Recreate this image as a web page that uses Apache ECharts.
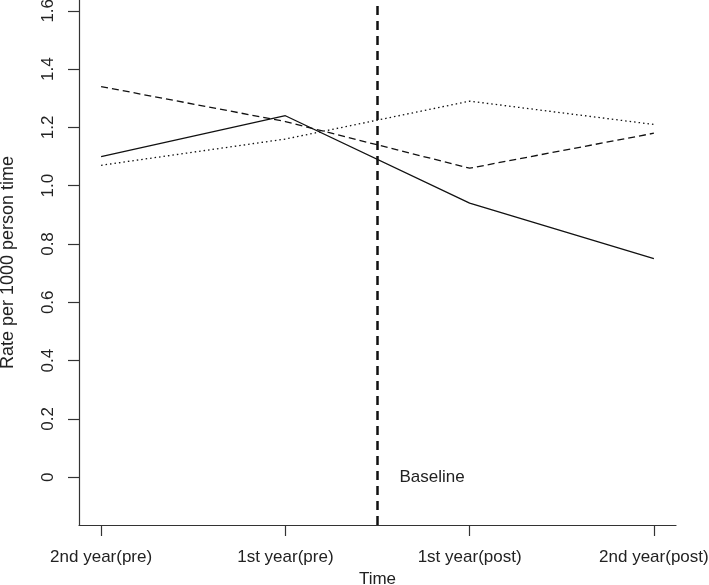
<!DOCTYPE html>
<html>
<head>
<meta charset="utf-8">
<script src="https://cdn.jsdelivr.net/npm/echarts@6/dist/echarts.min.js"></script>
<style>html,body{margin:0;padding:0;background:#fff}#c{width:709px;height:585px}</style>
</head>
<body>
<div id="c"></div>
<script>
const categories = ['2nd year(pre)', '1st year(pre)', '1st year(post)', '2nd year(post)'];
const solidValues = [1.10, 1.24, 0.94, 0.75];
const dashedValues = [1.34, 1.22, 1.06, 1.18];
const dottedValues = [1.07, 1.16, 1.29, 1.21];
const yTickValues = [0, 0.2, 0.4, 0.6, 0.8, 1.0, 1.2, 1.4, 1.6];
const yTickLabels = ['0', '0.2', '0.4', '0.6', '0.8', '1.0', '1.2', '1.4', '1.6'];
const baselineX = 2.5;
const baselineLabelY = 0;
const baselineText = 'Baseline';

const xPositions = categories.map((c, i) => i + 1);
const pairs = vals => vals.map((v, i) => [xPositions[i], v]);
const FONT = '"Liberation Sans", Arial, sans-serif';
const FS = 17;

const chart = echarts.init(document.getElementById('c'), null, {renderer: 'canvas'});
chart.setOption({
  animation: false,
  backgroundColor: '#fff',
  grid: {left: 79, right: 33, top: 0, bottom: 60, containLabel: false, outerBoundsMode: 'none'},
  xAxis: {
    type: 'value', min: 0.88, max: 4.12,
    name: 'Time', nameLocation: 'middle', nameGap: 44,
    nameTextStyle: {fontFamily: FONT, fontSize: FS, color: '#222'},
    splitLine: {show: false},
    axisLine: {onZero: false, lineStyle: {color: '#333', width: 1.2}},
    axisTick: {customValues: xPositions, length: 11, lineStyle: {color: '#333', width: 1.2}},
    axisLabel: {customValues: xPositions, margin: 24, fontFamily: FONT, fontSize: FS, color: '#222',
      formatter: v => categories[Math.round(v) - 1] || ''}
  },
  yAxis: {
    type: 'value', min: -0.164, max: 1.637,
    name: 'Rate per 1000 person time', nameLocation: 'middle', nameGap: 62,
    nameTextStyle: {fontFamily: FONT, fontSize: 18, color: '#222'},
    splitLine: {show: false},
    axisLine: {show: true, onZero: false, lineStyle: {color: '#333', width: 1.2}},
    axisTick: {show: true, customValues: yTickValues, length: 11, lineStyle: {color: '#333', width: 1.2}},
    axisLabel: {customValues: yTickValues, rotate: 90, margin: 22, fontFamily: FONT, fontSize: FS, color: '#222',
      formatter: v => { const i = yTickValues.findIndex(t => Math.abs(t - v) < 1e-6); return i >= 0 ? yTickLabels[i] : ''; }}
  },
  series: [
    {type: 'line', data: pairs(solidValues), symbol: 'none', lineStyle: {color: '#111', width: 1.3, type: 'solid'}},
    {type: 'line', data: pairs(dashedValues), symbol: 'none', lineStyle: {color: '#111', width: 1.3, type: [7, 4]}},
    {type: 'line', data: pairs(dottedValues), symbol: 'none', lineStyle: {color: '#111', width: 1.3, type: [1.5, 3]},
      markLine: {symbol: 'none', silent: true, label: {show: false},
        lineStyle: {color: '#111', width: 2.5, type: [9, 6]},
        data: [{xAxis: baselineX}]}},
    {type: 'scatter', data: [[baselineX, baselineLabelY]], symbolSize: 0, silent: true,
      itemStyle: {opacity: 1},
      label: {show: true, position: 'right', distance: 22, formatter: baselineText,
        fontFamily: FONT, fontSize: FS, color: '#222'}}
  ]
});
</script>
</body>
</html>
